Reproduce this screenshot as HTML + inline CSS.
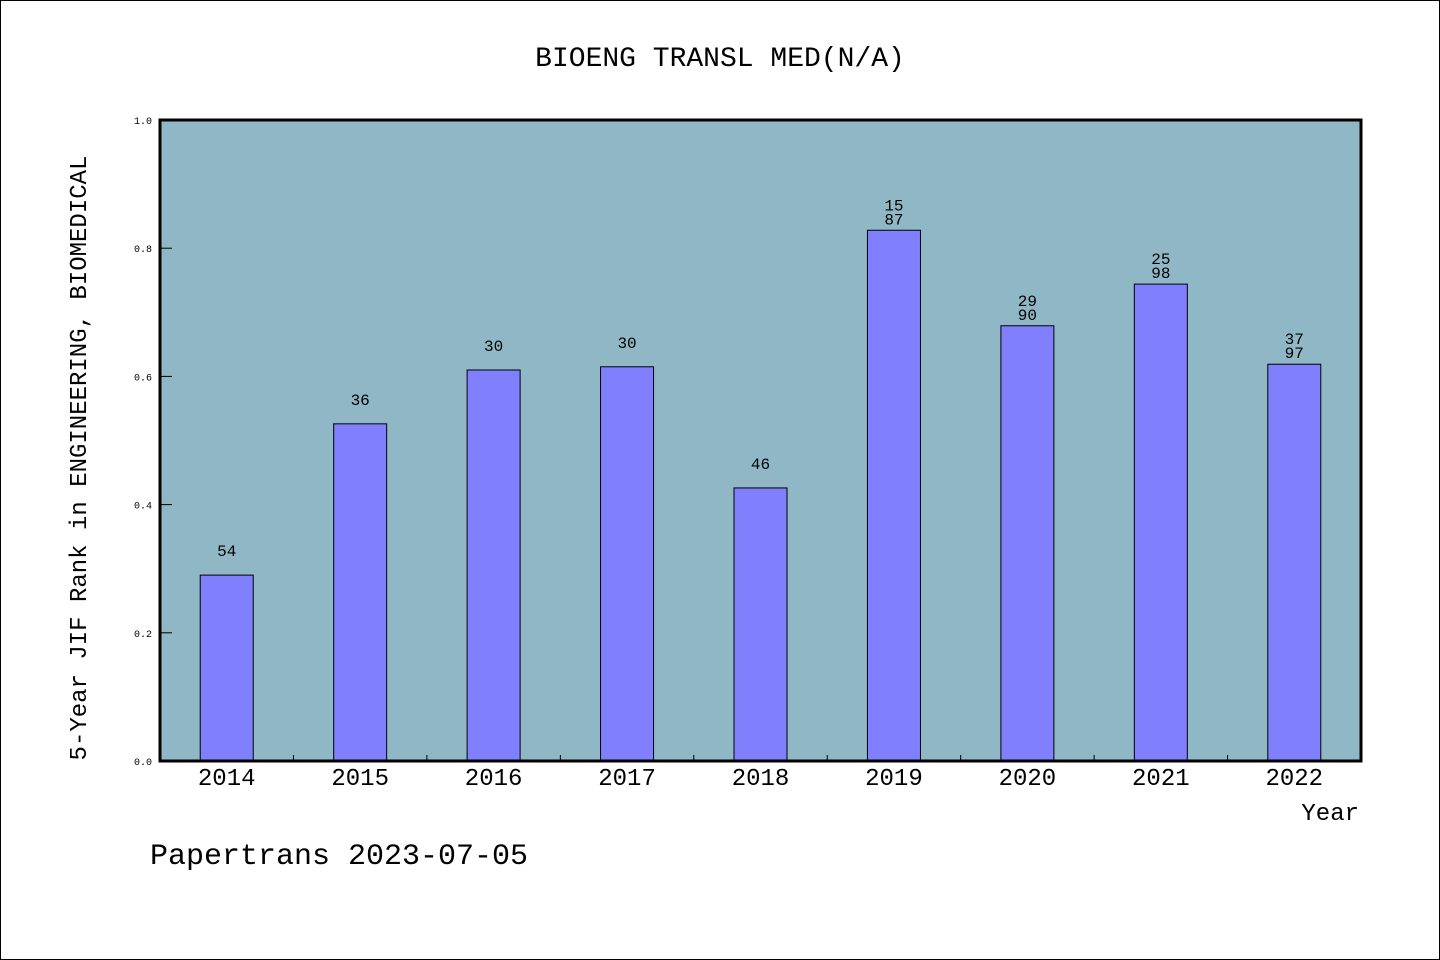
<!DOCTYPE html>
<html><head><meta charset="utf-8"><style>
html,body{margin:0;padding:0;background:#fff}
svg{display:block}
text{font-family:"WenQuanYi Zen Hei","Liberation Mono",monospace;fill:#000}
</style></head><body>
<svg width="1440" height="960">
<rect x="0.5" y="0.5" width="1439" height="959" fill="#fff" stroke="#000"/>
<text x="720" y="66" font-size="28" text-anchor="middle">BIOENG TRANSL MED(N/A)</text>
<rect x="160" y="120" width="1201" height="641" fill="#8fb7c6"/>
<g id="bars"></g>
<rect x="160" y="120" width="1201" height="641" fill="none" stroke="#000" stroke-width="3"/>
<g id="axes"></g>
<text x="86" y="458" font-size="24" text-anchor="middle" transform="rotate(-90 86 458)">5-Year JIF Rank in ENGINEERING, BIOMEDICAL</text>
<text x="1359" y="820" font-size="24" text-anchor="end">Year</text>
<text x="150" y="864" font-size="30">Papertrans 2023-07-05</text>
</svg>
<script>
const categories=["2014","2015","2016","2017","2018","2019","2020","2021","2022"];
const values=[0.29,0.526,0.61,0.615,0.426,0.828,0.679,0.744,0.619];
const labelTop=["54","36","30","30","46","15","29","25","37"];
const labelBottom=["","","","","","87","90","98","97"];
const yTicks=[0,0.2,0.4,0.6,0.8,1.0];
const NS="http://www.w3.org/2000/svg";
const X0=160,W=1201,Y0=761,H=641;
const step=W/categories.length;
const xc=i=>X0+step*(i+0.5);
const y=v=>Y0-v*H;
function mk(t,a,p){const e=document.createElementNS(NS,t);for(const k in a)e.setAttribute(k,a[k]);p.appendChild(e);return e;}
const bars=document.getElementById('bars'),axes=document.getElementById('axes');
categories.forEach((c,i)=>{
 const r=mk('rect',{x:xc(i)-26.5,y:y(values[i]),width:53,height:Y0-y(values[i]),fill:'#8080ff',stroke:'#000','stroke-width':1},bars);
 
 
 const two=labelBottom[i]!=="";
 const t1=mk('text',{x:xc(i),y:y(values[i])-(two?20:19),'font-size':16,'text-anchor':'middle'},bars);
 t1.textContent=labelTop[i];
 
 
 if(two){const t2=mk('text',{x:xc(i),y:y(values[i])-6,'font-size':16,'text-anchor':'middle'},bars);
  t2.textContent=labelBottom[i];
  
  }
 const xl=mk('text',{x:xc(i),y:785,'font-size':24,'text-anchor':'middle'},axes);
 xl.textContent=c;
 
 
 if(i>0){const tk=mk('line',{x1:X0+step*i,x2:X0+step*i,y1:Y0,y2:Y0-6,stroke:'#000'},axes);
  
  }
});
yTicks.forEach(v=>{
 if(v>0&&v<1){const tk=mk('line',{x1:X0,x2:X0+12,y1:y(v),y2:y(v),stroke:'#000'},axes);
  
  }
 const t=mk('text',{x:152,y:y(v)+4,'font-size':10,'text-anchor':'end'},axes);
 t.textContent=v.toFixed(1);
 
 
});
</script>
</body></html>
